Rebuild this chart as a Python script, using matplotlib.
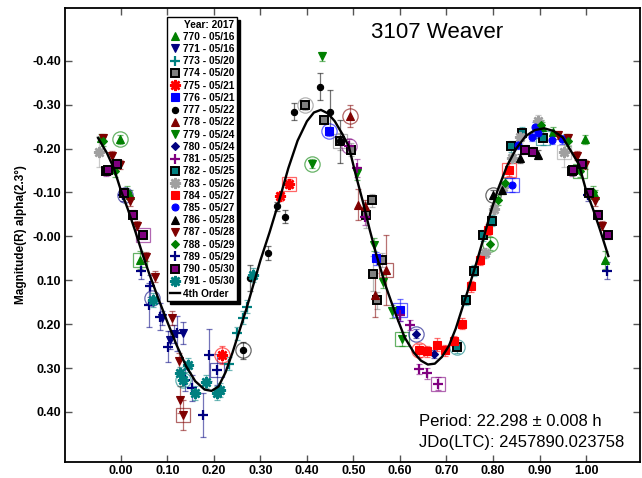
import matplotlib
matplotlib.use("Agg")
import matplotlib.pyplot as plt
from matplotlib.colors import to_rgba
from matplotlib.lines import Line2D
import numpy as np

plt.rcParams["font.family"] = ["Liberation Sans", "DejaVu Sans"]

# ---- lightcurve data (phase in [0, 1), magnitude, error) per session ----
ph_770 = [0.905, 0.930, 0.958, 0.998, 0.019, 0.041]
mg_770 = [-0.250, -0.238, -0.224, -0.221, -0.094, 0.054]
er_770 = [0.010, 0.010, 0.010, 0.010, 0.012, 0.020]

ph_771 = [0.089, 0.105, 0.115, 0.134]
mg_771 = [0.186, 0.236, 0.222, 0.221]
er_771 = [0.015, 0.020, 0.020, 0.025]

ph_773 = [0.232, 0.249, 0.262, 0.272]
mg_773 = [0.290, 0.221, 0.185, 0.160]
er_773 = [0.015, 0.015, 0.015, 0.015]

ph_774 = [0.396, 0.437, 0.472, 0.494, 0.528, 0.539, 0.543, 0.550, 0.561]
mg_774 = [-0.298, -0.265, -0.216, -0.197, -0.049, -0.082, 0.085, 0.146, 0.054]
er_774 = [0.010, 0.010, 0.020, 0.015, 0.030, 0.015, 0.040, 0.020, 0.015]

ph_775 = [0.217, 0.343, 0.362]
mg_775 = [0.270, -0.091, -0.120]
er_775 = [0.020, 0.010, 0.010]

ph_776 = [0.448, 0.548, 0.601]
mg_776 = [-0.239, 0.050, 0.167]
er_776 = [0.010, 0.015, 0.025]

ph_777 = [0.262, 0.277, 0.317, 0.335, 0.353, 0.372, 0.428, 0.449, 0.472]
mg_777 = [0.260, 0.095, 0.038, -0.068, -0.045, -0.284, -0.341, -0.284, -0.216]
er_777 = [0.020, 0.030, 0.015, 0.010, 0.015, 0.020, 0.030, 0.050, 0.050]

ph_778 = [0.493, 0.510, 0.525, 0.546, 0.570]
mg_778 = [-0.273, -0.072, -0.068, 0.133, 0.076]
er_778 = [0.025, 0.035, 0.015, 0.050, 0.080]

ph_779 = [0.412, 0.432, 0.508, 0.544, 0.563, 0.582, 0.604]
mg_779 = [-0.165, -0.410, -0.144, 0.019, 0.103, 0.171, 0.234]
er_779 = [0.010, 0.010, 0.015, 0.015, 0.015, 0.015, 0.015]

ph_780 = [0.634, 0.673]
mg_780 = [0.222, 0.268]
er_780 = [0.010, 0.010]

ph_781 = [0.490, 0.508, 0.525, 0.600, 0.622, 0.640, 0.659, 0.682]
mg_781 = [-0.206, -0.155, -0.045, 0.179, 0.202, 0.302, 0.312, 0.336]
er_781 = [0.015, 0.020, 0.020, 0.015, 0.012, 0.012, 0.012, 0.015]

ph_782 = [0.723, 0.741, 0.759, 0.778, 0.797, 0.838, 0.863, 0.907]
mg_782 = [0.253, 0.145, 0.078, -0.002, -0.036, -0.205, -0.236, -0.224]
er_782 = [0.012, 0.012, 0.012, 0.012, 0.012, 0.012, 0.012, 0.015]

ph_783 = [0.783, 0.802, 0.821, 0.840, 0.858, 0.897, 0.953]
mg_783 = [0.038, -0.062, -0.113, -0.178, -0.227, -0.262, -0.193]
er_783 = [0.012, 0.012, 0.012, 0.012, 0.015, 0.015, 0.035]

ph_784 = [0.641, 0.659, 0.679, 0.697, 0.716, 0.734, 0.752, 0.771, 0.790, 0.835]
mg_784 = [0.260, 0.262, 0.247, 0.260, 0.238, 0.199, 0.114, 0.054, -0.015, -0.152]
er_784 = [0.015, 0.012, 0.015, 0.012, 0.012, 0.012, 0.012, 0.012, 0.012, 0.015]

ph_785 = [0.840, 0.854, 0.883, 0.890, 0.897, 0.926, 0.948]
mg_785 = [-0.117, -0.208, -0.227, -0.250, -0.235, -0.220, -0.221]
er_785 = [0.015, 0.010, 0.010, 0.010, 0.010, 0.010, 0.010]

ph_786 = [0.801, 0.819, 0.857, 0.897]
mg_786 = [-0.095, -0.106, -0.178, -0.186]
er_786 = [0.010, 0.010, 0.010, 0.010]

ph_787 = [0.940, 0.961, 0.980, 0.998, 0.019, 0.035, 0.055, 0.073, 0.109, 0.124, 0.127, 0.134]
mg_787 = [-0.231, -0.224, -0.184, -0.163, -0.080, -0.024, 0.046, 0.092, 0.186, 0.285, 0.372, 0.407]
er_787 = [0.010, 0.010, 0.010, 0.010, 0.010, 0.010, 0.010, 0.012, 0.015, 0.020, 0.030, 0.035]

ph_788 = [0.794, 0.811, 0.826, 0.903, 0.962, 0.987, 0.014]
mg_788 = [0.017, -0.083, -0.121, -0.254, -0.216, -0.148, -0.102]
er_788 = [0.015, 0.012, 0.012, 0.010, 0.010, 0.012, 0.012]

ph_789 = [0.005, 0.044, 0.061, 0.062, 0.084, 0.102, 0.120, 0.138, 0.152, 0.177, 0.190, 0.206]
mg_789 = [-0.095, 0.078, 0.156, 0.114, 0.183, 0.251, 0.221, 0.327, 0.346, 0.407, 0.270, 0.304]
er_789 = [0.015, 0.020, 0.050, 0.025, 0.030, 0.035, 0.040, 0.025, 0.030, 0.050, 0.060, 0.035]

ph_790 = [0.869, 0.887, 0.969, 0.973, 0.991, 0.007, 0.026, 0.048]
mg_790 = [-0.197, -0.193, -0.148, -0.150, -0.165, -0.098, -0.049, -0.003]
er_790 = [0.010, 0.010, 0.010, 0.010, 0.010, 0.010, 0.010, 0.010]

ph_791 = [0.069, 0.127, 0.134, 0.145, 0.159, 0.184, 0.206, 0.213, 0.284]
mg_791 = [0.145, 0.312, 0.327, 0.293, 0.357, 0.331, 0.357, 0.350, 0.088]
er_791 = [0.015, 0.015, 0.015, 0.015, 0.015, 0.015, 0.015, 0.015, 0.015]

# highlighted (ringed) points as drawn on the plot
ring_phase = [-0.002, 0.041, 0.009, 0.048, 0.066, 0.134, 0.134, 0.206, 0.217, 0.262,
              0.362, 0.396, 0.412, 0.448, 0.472, 0.490, 0.493, 0.570, 0.601, 0.604,
              0.634, 0.641, 0.682, 0.723, 0.794, 0.801, 0.835, 0.840, 0.907, 0.953, 0.987]
ring_mag = [-0.221, 0.054, -0.094, -0.003, 0.140, 0.327, 0.407, 0.304, 0.270, 0.260,
            -0.120, -0.298, -0.165, -0.239, -0.216, -0.206, -0.273, 0.076, 0.167, 0.234,
            0.222, 0.260, 0.336, 0.253, 0.017, -0.095, -0.152, -0.117, -0.224, -0.193, -0.148]
ring_kind = ["o", "s", "o", "s", "o", "o", "s", "s", "o", "o",
             "s", "o", "o", "o", "s", "o", "o", "s", "s", "s",
             "o", "o", "s", "o", "o", "o", "s", "s", "s", "s", "s"]
ring_session = ["770", "770", "789", "790", "789", "791", "787", "789", "775", "777",
                "775", "774", "779", "776", "774", "781", "778", "778", "776", "779",
                "780", "784", "781", "782", "788", "786", "784", "785", "782", "783", "788"]

# 4th order Fourier fit
curve_phase = [-0.049, -0.03, -0.015, 0.00, 0.015, 0.03, 0.048, 0.06, 0.08, 0.10, 0.12,
               0.14, 0.16, 0.18, 0.195, 0.21, 0.225, 0.24, 0.255, 0.27, 0.285, 0.30,
               0.32, 0.34, 0.36, 0.38, 0.40, 0.415, 0.43, 0.445, 0.46, 0.475, 0.49,
               0.505, 0.52, 0.535, 0.55, 0.57, 0.59, 0.61, 0.63, 0.645, 0.66, 0.675,
               0.69, 0.705, 0.72, 0.735, 0.75, 0.765, 0.78, 0.795, 0.81, 0.83, 0.85,
               0.87, 0.89, 0.91, 0.93, 0.95, 0.97, 0.985, 1.00, 1.015, 1.03, 1.048]
curve_mag = [-0.224, -0.190, -0.155, -0.105, -0.062, -0.015, 0.045, 0.082, 0.140, 0.195,
             0.248, 0.295, 0.330, 0.349, 0.352, 0.342, 0.310, 0.265, 0.215, 0.165,
             0.110, 0.055, -0.010, -0.080, -0.155, -0.218, -0.262, -0.282, -0.288,
             -0.280, -0.262, -0.235, -0.205, -0.140, -0.080, -0.015, 0.045, 0.115,
             0.175, 0.230, 0.265, 0.283, 0.292, 0.290, 0.275, 0.250, 0.210, 0.160,
             0.110, 0.058, 0.003, -0.055, -0.105, -0.160, -0.200, -0.228, -0.242,
             -0.246, -0.240, -0.225, -0.190, -0.163, -0.105, -0.062, -0.015, 0.045]

sessions = ["770", "771", "773", "774", "775", "776", "777", "778", "779", "780", "781",
            "782", "783", "784", "785", "786", "787", "788", "789", "790", "791"]
dates = ["05/16", "05/16", "05/20", "05/20", "05/21", "05/21", "05/22", "05/22", "05/24",
         "05/24", "05/25", "05/25", "05/26", "05/27", "05/27", "05/28", "05/28", "05/29",
         "05/29", "05/30", "05/30"]

ASTER = (8, 2, 0)
# marker, face colour, edge colour, size, edge width
STYLE = {
    "770": ("^", "#008000", "#008000", 5.5, 0.8),
    "771": ("v", "#000080", "#000080", 5.5, 0.8),
    "773": ("+", "#008080", "#008080", 7.5, 1.6),
    "774": ("s", "#808080", "black", 5.5, 1.4),
    "775": (ASTER, "#ff0000", "#ff0000", 8, 1.8),
    "776": ("s", "#0000ff", "#0000ff", 5.5, 0.8),
    "777": ("o", "black", "black", 4.5, 0.8),
    "778": ("^", "#800000", "#800000", 5.5, 0.8),
    "779": ("v", "#008000", "#008000", 5.5, 0.8),
    "780": ("D", "#000080", "#000080", 4.2, 0.8),
    "781": ("+", "#800080", "#800080", 7.5, 1.6),
    "782": ("s", "#008080", "black", 5.5, 1.4),
    "783": (ASTER, "#a0a0a0", "#a0a0a0", 8, 1.8),
    "784": ("s", "#ff0000", "#ff0000", 5.5, 0.8),
    "785": ("o", "#0000ff", "#0000ff", 5, 0.8),
    "786": ("^", "black", "black", 5.5, 0.8),
    "787": ("v", "#800000", "#800000", 5.5, 0.8),
    "788": ("D", "#008000", "#008000", 4.2, 0.8),
    "789": ("+", "#000080", "#000080", 7.5, 1.6),
    "790": ("s", "#800080", "black", 5.5, 1.4),
    "791": (ASTER, "#008080", "#008080", 8, 1.8),
}

DATA = {s: (globals()["ph_" + s], globals()["mg_" + s], globals()["er_" + s]) for s in sessions}


def wrap(ph, mg, er, lo=-0.05, hi=1.05):
    """Repeat points near the phase ends so the plot covers -0.05..1.05."""
    ph, mg, er = np.asarray(ph), np.asarray(mg), np.asarray(er)
    xs, ys, es = [ph], [mg], [er]
    for shift in (-1.0, 1.0):
        sel = (ph + shift >= lo) & (ph + shift <= hi)
        xs.append(ph[sel] + shift)
        ys.append(mg[sel])
        es.append(er[sel])
    return np.concatenate(xs), np.concatenate(ys), np.concatenate(es)


fig = plt.figure(figsize=(6.42, 4.78), dpi=100)
ax = fig.add_axes([65 / 642, 1 - 462 / 478, 575 / 642, 454 / 478])

handles = []
for s, d in zip(sessions, dates):
    mk, fc, ec, ms, mew = STYLE[s]
    edge = fc if mk in ("+", ASTER) else ec
    x, y, e = wrap(*DATA[s])
    ax.errorbar(x, y, yerr=e, fmt="none", ecolor=to_rgba(fc, 0.55), elinewidth=0.9,
                capsize=2, capthick=0.9, zorder=2)
    ax.plot(x, y, linestyle="none", marker=mk, markersize=ms, markerfacecolor=fc,
            markeredgecolor=edge, markeredgewidth=mew, zorder=3)
    handles.append(Line2D([], [], linestyle="none", marker=mk, markersize=ms,
                          markerfacecolor=fc, markeredgecolor=edge,
                          markeredgewidth=mew, label=f"{s} - {d}"))

for rx, ry, rk, rs in zip(ring_phase, ring_mag, ring_kind, ring_session):
    col = STYLE[rs][1]
    ax.plot(rx, ry, linestyle="none", marker=rk, markersize=11 if rk == "o" else 10.5,
            markerfacecolor="none", markeredgecolor=to_rgba(col, 0.6), markeredgewidth=0.9,
            zorder=2.5)

ax.plot(curve_phase, curve_mag, color="black", linewidth=1.7, zorder=4)
handles.append(Line2D([], [], color="black", linewidth=1.7, label="4th Order"))

ax.set_xlim(-0.12, 1.116)
ax.set_ylim(0.514, -0.520)
ticks_x = np.round(np.arange(0, 1.01, 0.1), 2)
ax.set_xticks(ticks_x)
ax.set_xticklabels([f"{t:.2f}" for t in ticks_x])
ticks_y = np.round(np.arange(-0.4, 0.41, 0.1), 2)
ax.set_yticks(ticks_y)
ax.set_yticklabels([f"{t:.2f}" for t in ticks_y])
ax.tick_params(direction="in", length=5, width=1, color="#555555", top=True, right=True,
               labelsize=9)
ax.tick_params(axis="x", pad=2)
ax.tick_params(axis="y", pad=3)
for lab in ax.get_xticklabels() + ax.get_yticklabels():
    lab.set_fontweight("bold")
for sp in ax.spines.values():
    sp.set_linewidth(1.3)

ax.set_ylabel("Magnitude(R) alpha(2.3°)", fontsize=8.5, fontweight="bold", labelpad=4)

fig.text(371 / 642, 1 - 33 / 478, "3107 Weaver", fontsize=16, va="center", ha="left")
fig.text(419 / 642, 1 - 422 / 478, "Period: 22.298 ± 0.008 h", fontsize=12, va="center")
fig.text(419 / 642, 1 - 443 / 478, "JDo(LTC): 2457890.023758", fontsize=12, va="center")

leg = ax.legend(handles=handles, loc="upper left", bbox_to_anchor=(167 / 642, 1 - 17 / 478),
                bbox_transform=fig.transFigure, borderaxespad=0, title="Year: 2017",
                alignment="right", title_fontproperties={"size": 7.3, "weight": "bold"},
                prop={"size": 7.3, "weight": "bold"}, labelspacing=0.22, handlelength=1.0,
                handletextpad=0.3, borderpad=0.25, fancybox=False, framealpha=1,
                edgecolor="black", shadow={"color": "black", "alpha": 1})
leg.get_frame().set_linewidth(1.0)
leg.set_zorder(10)

fig.savefig("out.png", dpi=100)
